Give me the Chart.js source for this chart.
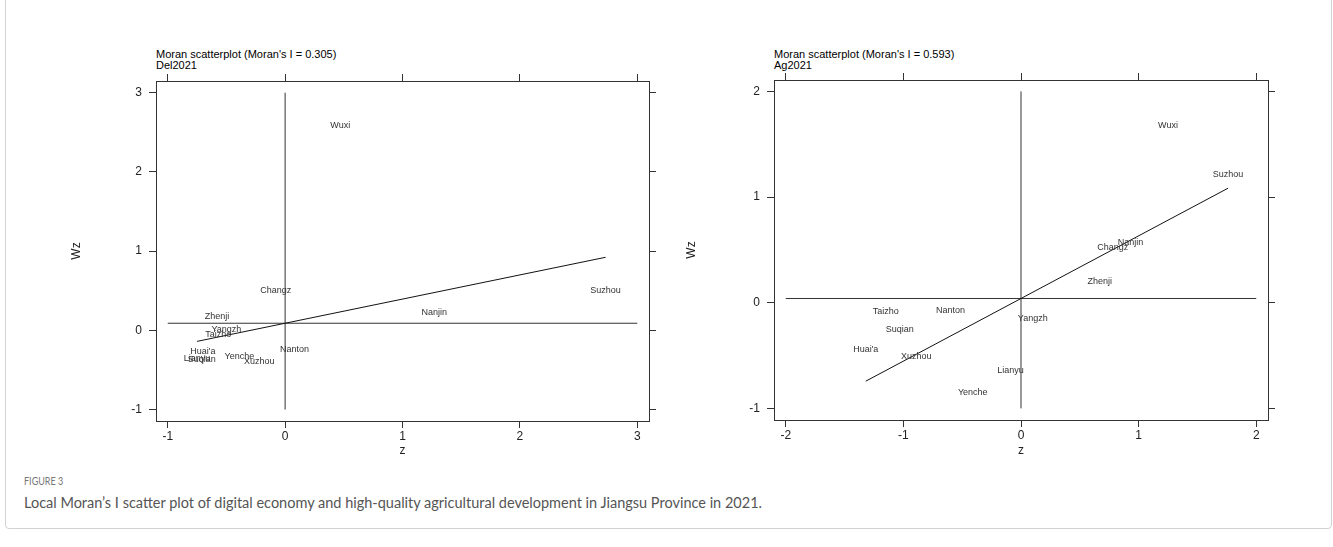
<!DOCTYPE html>
<html>
<head>
<meta charset="utf-8">
<script src="https://cdn.jsdelivr.net/npm/chart.js@4.4.0/dist/chart.umd.min.js"></script>
<style>
  body { margin:0; background:#fff; width:1333px; height:547px; overflow:hidden; position:relative; font-family:"Liberation Sans", Arial, sans-serif; }
  .frame { position:absolute; left:5px; top:-6px; width:1325px; height:533px; border:1px solid #d2d2d2; border-radius:4px; }
  .plot { position:absolute; top:0; height:462px; }
  .ttl { position:absolute; top:49px; font-size:11px; line-height:11px; color:#000; white-space:nowrap; }
  .fig { position:absolute; left:24px; top:475px; font-family:Lato, "Open Sans", sans-serif; font-size:10.5px; color:#777; transform:scaleX(0.86); transform-origin:left top; }
  .cap { position:absolute; left:24px; top:494px; font-family:Lato, "Open Sans", sans-serif; font-size:14.5px; color:#555; white-space:nowrap; }
</style>
</head>
<body>
<div class="frame"></div>

<div class="ttl" style="left:156px">Moran scatterplot (Moran's I = 0.305)<br>Del2021</div>
<div class="ttl" style="left:774px">Moran scatterplot (Moran's I = 0.593)<br>Ag2021</div>

<div class="plot" style="left:65px;width:601px"><canvas id="delCanvas"></canvas></div>
<div class="plot" style="left:680px;width:605px"><canvas id="agCanvas"></canvas></div>

<div class="fig">FIGURE 3</div>
<div class="cap">Local Moran’s I scatter plot of digital economy and high-quality agricultural development in Jiangsu Province in 2021.</div>

<script>
// Del2021
const cidadesDel = ['Wuxi', 'Changz', 'Suzhou', 'Nanjin', 'Zhenji', 'Yangzh', 'Taizho', "Huai'a", 'Lianyu', 'Suqian', 'Yenche', 'Xuzhou', 'Nanton'];
const zDel  = [0.47, -0.08, 2.73, 1.27, -0.58, -0.50, -0.57, -0.70, -0.75, -0.71, -0.39, -0.22, 0.08];
const wzDel = [2.58, 0.50, 0.50, 0.22, 0.18, 0.01, -0.05, -0.27, -0.36, -0.37, -0.33, -0.39, -0.24];
const xTicksDel = [-1, 0, 1, 2, 3];
const yTicksDel = [-1, 0, 1, 2, 3];
const moranDel = 0.305;
const mediaWzDel = 0.09;

// Ag2021
const cidadesAg = ['Wuxi', 'Suzhou', 'Nanjin', 'Changz', 'Zhenji', 'Taizho', 'Nanton', 'Yangzh', 'Suqian', "Huai'a", 'Xuzhou', 'Lianyu', 'Yenche'];
const zAg  = [1.25, 1.76, 0.93, 0.78, 0.67, -1.15, -0.60, 0.10, -1.03, -1.32, -0.89, -0.09, -0.41];
const wzAg = [1.68, 1.21, 0.57, 0.52, 0.20, -0.08, -0.07, -0.15, -0.25, -0.44, -0.51, -0.64, -0.85];
const xTicksAg = [-2, -1, 0, 1, 2];
const yTicksAg = [-1, 0, 1, 2];
const moranAg = 0.593;
const mediaWzAg = 0.04;

const fonte = '"Liberation Sans", Arial, sans-serif';

// escreve o nome de cada cidade no lugar do ponto
const nomesCidades = {
  id: 'nomesCidades',
  afterDatasetsDraw(chart) {
    const ds = chart.data.datasets[0];
    const meta = chart.getDatasetMeta(0);
    const ctx = chart.ctx;
    ctx.save();
    ctx.font = '9px ' + fonte;
    ctx.fillStyle = '#333';
    ctx.textAlign = 'center';
    ctx.textBaseline = 'middle';
    meta.data.forEach((pt, i) => ctx.fillText(ds.nomes[i], pt.x, pt.y));
    ctx.restore();
  }
};

function eixo(pos, min, max, ticks, tamanho, titulo) {
  const horizontal = pos === 'bottom' || pos === 'top';
  const principal = pos === 'bottom' || pos === 'left';
  return {
    type: 'linear',
    position: pos,
    min: min,
    max: max,
    afterBuildTicks: s => { s.ticks = ticks.map(v => ({ value: v })); },
    afterFit: s => { if (horizontal) s.height = tamanho; else s.width = tamanho; },
    ticks: {
      display: principal,
      color: '#222',
      font: { size: 12, family: fonte },
      padding: horizontal ? 1 : 7,
      maxRotation: 0
    },
    grid: { display: true, drawOnChartArea: false, drawTicks: true, tickLength: 7, tickColor: '#333', tickWidth: 1 },
    border: { display: true, color: '#333', width: 1 },
    title: {
      display: !!titulo,
      text: titulo || '',
      color: '#222',
      font: { size: 12, family: fonte },
      padding: { top: 4, bottom: 4 }
    }
  };
}

function criarGrafico(id, nomes, z, wz, xTicks, yTicks, moran, mediaWz, xLim, yLim, margem) {
  const pontos = z.map((v, i) => ({ x: v, y: wz[i] }));
  const zMin = Math.min(...z), zMax = Math.max(...z);
  const ajuste = [zMin, zMax].map(v => ({ x: v, y: mediaWz + moran * v }));
  const xIni = xTicks[0], xFim = xTicks[xTicks.length - 1];
  const yIni = yTicks[0], yFim = yTicks[yTicks.length - 1];

  new Chart(document.getElementById(id), {
    type: 'scatter',
    data: {
      datasets: [
        { data: pontos, nomes: nomes, pointRadius: 0, showLine: false },
        { data: ajuste, showLine: true, borderColor: '#111', borderWidth: 1, pointRadius: 0 },
        { data: [{ x: xIni, y: mediaWz }, { x: xFim, y: mediaWz }], showLine: true, borderColor: '#333', borderWidth: 1, pointRadius: 0 },
        { data: [{ x: 0, y: yIni }, { x: 0, y: yFim }], showLine: true, borderColor: '#333', borderWidth: 1, pointRadius: 0 }
      ]
    },
    options: {
      responsive: true,
      maintainAspectRatio: false,
      animation: false,
      events: [],
      layout: { padding: 0 },
      plugins: { legend: { display: false }, tooltip: { enabled: false } },
      scales: {
        x: eixo('bottom', xLim[0], xLim[1], xTicks, margem.bottom, 'z'),
        x2: eixo('top', xLim[0], xLim[1], xTicks, margem.top),
        y: eixo('left', yLim[0], yLim[1], yTicks, margem.left, 'Wz'),
        y2: eixo('right', yLim[0], yLim[1], yTicks, margem.right)
      }
    },
    plugins: [nomesCidades]
  });
}

criarGrafico('delCanvas', cidadesDel, zDel, wzDel, xTicksDel, yTicksDel, moranDel, mediaWzDel,
  [-1.1, 3.1], [-1.144, 3.148], { left: 91, right: 17, top: 81, bottom: 41 });
criarGrafico('agCanvas', cidadesAg, zAg, wzAg, xTicksAg, yTicksAg, moranAg, mediaWzAg,
  [-2.1, 2.1], [-1.11, 2.108], { left: 94, right: 17, top: 80, bottom: 42 });
</script>
</body>
</html>
